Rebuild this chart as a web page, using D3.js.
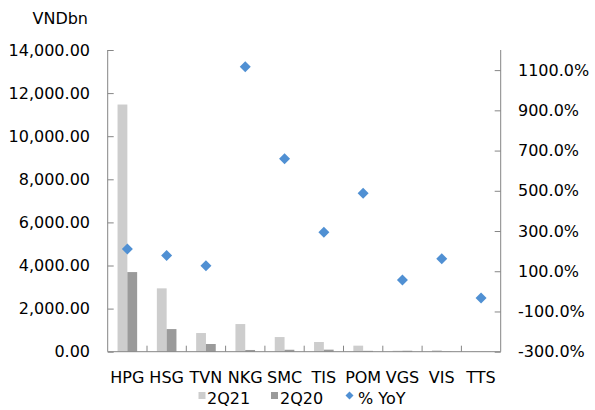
<!DOCTYPE html>
<html>
<head>
<meta charset="utf-8">
<script src="https://cdn.jsdelivr.net/npm/d3@7"></script>
<style>
  body { margin: 0; background: #fff; }
  text { font-family: "DejaVu Sans", sans-serif; fill: #000; }
</style>
</head>
<body>
<div id="chart"></div>
<script>
// data
var categories = ["HPG", "HSG", "TVN", "NKG", "SMC", "TIS", "POM", "VGS", "VIS", "TTS"];
var rev2Q21 = [11470, 2940, 866, 1283, 680, 450, 280, 45, 65, 12];
var rev2Q20 = [3695, 1050, 357, 80, 90, 95, 40, 45, 10, 8];
var yoy = [210, 178, 127, 1117, 659, 294, 488, 57, 162, -33];
var leftTicks = [0, 2000, 4000, 6000, 8000, 10000, 12000, 14000];
var rightTicks = [-300, -100, 100, 300, 500, 700, 900, 1100];
var seriesNames = ["2Q21", "2Q20", "% YoY"];

var W = 595, H = 410;
var plotL = 107.7, plotR = 500.7, plotT = 50, plotB = 351.7;

var svg = d3.select("#chart").append("svg")
    .attr("width", W)
    .attr("height", H);

var x = d3.scaleBand().domain(categories).range([plotL, plotR]);
var xs = d3.scaleBand().domain([0, 1]).range([0, 19.6]);
var y = d3.scaleLinear().domain([0, 14000]).range([plotB, plotT]);
var y2 = d3.scaleLinear().domain([-300, 1200]).range([plotB, plotT]);

var fmtL = d3.format(",.2f");
var axisCol = "#868686";

// bars
var bw = x.bandwidth();
var groups = svg.selectAll("g.cat")
    .data(categories)
    .enter()
    .append("g")
    .attr("class", "cat")
    .attr("transform", function(d) { return "translate(" + (x(d) + bw / 2 - 9.8) + ",0)"; });

groups.append("rect")
    .attr("x", xs(0))
    .attr("width", xs.bandwidth())
    .attr("y", function(d, i) { return y(rev2Q21[i]); })
    .attr("height", function(d, i) { return plotB - y(rev2Q21[i]); })
    .attr("fill", "#cdcdcd");

groups.append("rect")
    .attr("x", xs(1))
    .attr("width", xs.bandwidth())
    .attr("y", function(d, i) { return y(rev2Q20[i]); })
    .attr("height", function(d, i) { return plotB - y(rev2Q20[i]); })
    .attr("fill", "#9a9a9a");

// left axis
var gl = svg.append("g").attr("transform", "translate(" + plotL + ",0)")
    .call(d3.axisRight(y).tickValues(leftTicks).tickSize(6).tickFormat(""));
gl.selectAll("line").attr("stroke", axisCol);
gl.select(".domain").attr("stroke", axisCol).attr("d", "M0," + plotT + "V" + plotB);

svg.selectAll("text.ltick")
    .data(leftTicks)
    .enter()
    .append("text")
    .attr("class", "ltick")
    .attr("x", 90)
    .attr("y", function(d) { return y(d); })
    .attr("dy", "0.35em")
    .attr("text-anchor", "end")
    .style("font-size", "16px")
    .text(function(d) { return fmtL(d); });

// right axis
var gr = svg.append("g").attr("transform", "translate(" + plotR + ",0)")
    .call(d3.axisLeft(y2).tickValues(rightTicks).tickSize(6).tickFormat(""));
gr.selectAll("line").attr("stroke", axisCol);
gr.select(".domain").attr("stroke", axisCol).attr("d", "M0," + plotT + "V" + plotB);

svg.selectAll("text.rtick")
    .data(rightTicks)
    .enter()
    .append("text")
    .attr("class", "rtick")
    .attr("x", 518)
    .attr("y", function(d) { return y2(d); })
    .attr("dy", "0.35em")
    .style("font-size", "16px")
    .text(function(d) { return d.toFixed(1) + "%"; });

// x axis
svg.append("line")
    .attr("x1", plotL).attr("x2", plotR)
    .attr("y1", plotB).attr("y2", plotB)
    .attr("stroke", axisCol);

svg.selectAll("line.xtick")
    .data(categories.slice(1))
    .enter()
    .append("line")
    .attr("class", "xtick")
    .attr("x1", function(d) { return x(d); })
    .attr("x2", function(d) { return x(d); })
    .attr("y1", plotB - 6)
    .attr("y2", plotB)
    .attr("stroke", axisCol);

svg.selectAll("text.xlab")
    .data(categories)
    .enter()
    .append("text")
    .attr("class", "xlab")
    .attr("x", function(d) { return x(d) + bw / 2; })
    .attr("y", 383)
    .attr("text-anchor", "middle")
    .style("font-size", "16px")
    .text(function(d) { return d; });

// diamonds
svg.selectAll("path.yoy")
    .data(yoy)
    .enter()
    .append("path")
    .attr("class", "yoy")
    .attr("d", "M0,-5.5L5.5,0L0,5.5L-5.5,0Z")
    .attr("transform", function(d, i) { return "translate(" + (x(categories[i]) + bw / 2) + "," + y2(d) + ")"; })
    .attr("fill", "#5090d3");

// unit label
svg.append("text")
    .attr("x", 88)
    .attr("y", 24)
    .attr("text-anchor", "end")
    .style("font-size", "16px")
    .text("VNDbn");

// legend
var legend = svg.append("g");
legend.append("rect").attr("x", 198.5).attr("y", 392).attr("width", 7).attr("height", 7).attr("fill", "#cdcdcd");
legend.append("text").attr("x", 207).attr("y", 404).style("font-size", "16px").text(seriesNames[0]);
legend.append("rect").attr("x", 271).attr("y", 392).attr("width", 7).attr("height", 7).attr("fill", "#9a9a9a");
legend.append("text").attr("x", 280).attr("y", 404).style("font-size", "16px").text(seriesNames[1]);
legend.append("path").attr("d", "M0,-4L4,0L0,4L-4,0Z")
    .attr("transform", "translate(349.5,395.5)").attr("fill", "#5090d3");
legend.append("text").attr("x", 358).attr("y", 404).style("font-size", "16px").text(seriesNames[2]);
</script>
</body>
</html>
